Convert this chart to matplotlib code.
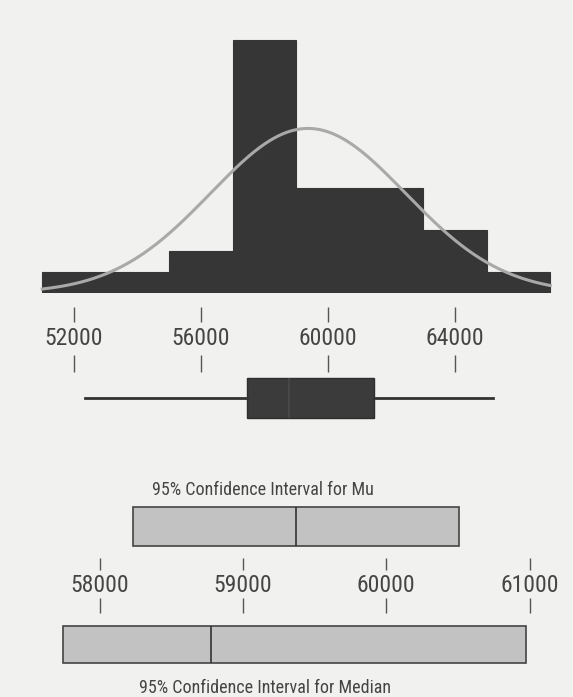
import numpy as np
import matplotlib.pyplot as plt
from matplotlib import font_manager

# Histogram of the sample (bin edges and counts)
bin_edges = [51000, 53000, 55000, 57000, 59000, 61000, 63000, 65000, 67000]
counts = [1, 1, 2, 12, 5, 5, 3, 1]
n_obs = 30
sample_mean = 59371
sample_sd = 3069

# Boxplot summary
whisker_lo = 52350
q1 = 57460
median = 58780
q3 = 61440
whisker_hi = 65200

# Confidence intervals
mu_ci = [58237, 60505]
median_ci = [57743, 60972]

upper_ticks = [52000, 56000, 60000, 64000]
lower_ticks = [58000, 59000, 60000, 61000]

W, H = 573, 697
bg = '#f1f1ef'
dark = '#363636'
txt = '#454545'

# prefer a narrow sans face for the labels
installed = sorted({f.name for f in font_manager.fontManager.ttflist})
preferred = ['Liberation Sans Narrow', 'Roboto Condensed', 'DejaVu Sans Condensed']
narrow = [n for n in preferred if n in installed]
narrow += [n for n in installed if ('Condensed' in n or 'Narrow' in n) and n not in narrow]
plt.rcParams['font.family'] = narrow[:1] + ['Roboto', 'DejaVu Sans']


def px_axes(fig, left, top, right, bottom):
    return fig.add_axes([left / W, 1 - bottom / H, (right - left) / W, (bottom - top) / H])


fig = plt.figure(figsize=(W / 100, H / 100), dpi=100, facecolor=bg)

upper_xlim = (52000 - 74 / 0.03175, 52000 + (W - 74) / 0.03175)
lower_xlim = (58000 - 99.5 / 0.1434, 58000 + (W - 99.5) / 0.1434)

# histogram with fitted normal curve
ax_hist = px_axes(fig, 0, 20, W, 293)
ax_hist.bar(bin_edges[:-1], counts, width=np.diff(bin_edges), align='edge',
            color=dark, edgecolor=dark, linewidth=0.8)
xs = np.linspace(bin_edges[0], bin_edges[-1], 400)
bw = bin_edges[1] - bin_edges[0]
curve = n_obs * bw / (sample_sd * np.sqrt(2 * np.pi)) * np.exp(-0.5 * ((xs - sample_mean) / sample_sd) ** 2)
ax_hist.plot(xs, curve, color='#a9a9a9', linewidth=2.2)
ax_hist.set_xlim(upper_xlim)
ax_hist.set_ylim(0, 273 / 21.1)
ax_hist.axis('off')

# axis ticks, labels and boxplot (y in pixel rows)
ax_box = px_axes(fig, 0, 295, W, 440)
ax_box.set_xlim(upper_xlim)
ax_box.vlines(upper_ticks, 307, 322, color='#555555', linewidth=1)
ax_box.vlines(upper_ticks, 355, 372, color='#555555', linewidth=1)
for t in upper_ticks:
    ax_box.text(t, 345, str(t), ha='center', va='baseline', fontsize=17, color=txt)
stats = [dict(med=median, q1=q1, q3=q3, whislo=whisker_lo, whishi=whisker_hi, fliers=[])]
ax_box.bxp(stats, positions=[398], widths=40, orientation='horizontal', patch_artist=True,
           showcaps=False, showfliers=False,
           boxprops=dict(facecolor='#3b3b3b', edgecolor='#2e2e2e', linewidth=1),
           whiskerprops=dict(color='#333333', linewidth=2),
           medianprops=dict(color='#4a4a4a', linewidth=1.2))
ax_box.set_ylim(440, 295)
ax_box.axis('off')

# confidence intervals for mu and median
ax_ci = px_axes(fig, 0, 440, W, H)
ax_ci.set_xlim(lower_xlim)
ax_ci.barh(526.5, mu_ci[1] - mu_ci[0], left=mu_ci[0], height=39,
           color='#c2c2c2', edgecolor='#444444', linewidth=1.2)
ax_ci.vlines(sample_mean, 507, 546, color='#333333', linewidth=1.2)
ax_ci.vlines(lower_ticks, 558, 570, color='#555555', linewidth=1)
ax_ci.vlines(lower_ticks, 598, 613, color='#555555', linewidth=1)
for t in lower_ticks:
    ax_ci.text(t, 592, str(t), ha='center', va='baseline', fontsize=17, color=txt)
ax_ci.barh(644.5, median_ci[1] - median_ci[0], left=median_ci[0], height=37,
           color='#c2c2c2', edgecolor='#444444', linewidth=1.2)
ax_ci.vlines(median, 626, 663, color='#333333', linewidth=1.2)
ax_ci.set_ylim(H, 440)
ax_ci.axis('off')

# titles are placed by pixel column
fig.text(263 / W, 1 - 495 / H, '95% Confidence Interval for Mu',
         fontsize=13, color=txt, ha='center', va='baseline')
fig.text(265 / W, 1 - 693 / H, '95% Confidence Interval for Median',
         fontsize=13, color=txt, ha='center', va='baseline')

fig.savefig('out.png', dpi=100, facecolor=bg)
